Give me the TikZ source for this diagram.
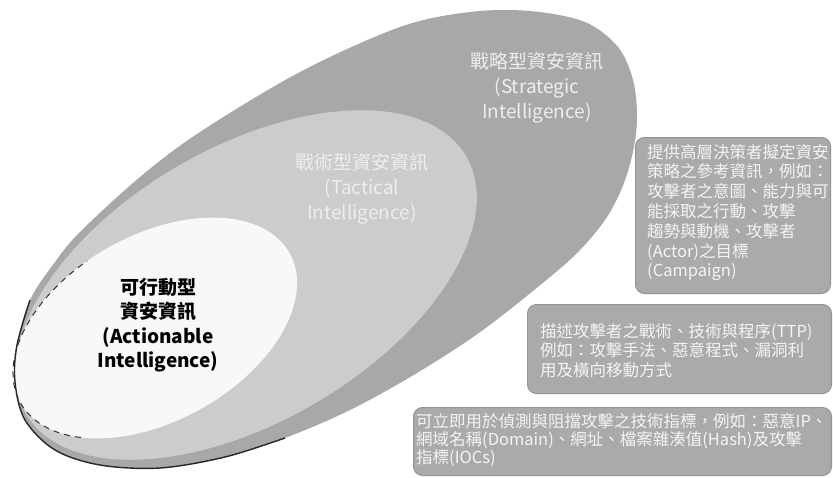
\documentclass[tikz,border=0pt]{standalone}
\usepackage{fontspec}
\setmainfont{Noto Sans CJK TC}
\definecolor{outergray}{RGB}{168,168,168}
\definecolor{midgray}{RGB}{204,204,204}
\definecolor{innerc}{RGB}{248,248,248}
\definecolor{boxgray}{RGB}{170,170,170}
\definecolor{boxedge}{RGB}{148,148,148}
\definecolor{boxtxt}{RGB}{244,244,244}
\definecolor{labeltxt}{RGB}{238,238,238}
\begin{document}
\begin{tikzpicture}[x=1pt,y=-1pt,
  boxnode/.style={fill=boxgray, draw=boxedge, line width=1pt, rounded corners=9pt, anchor=north west, inner sep=0pt},
  boxtext/.style={anchor=north west, inner sep=0pt, align=left, text=boxtxt, font=\fontsize{16.5}{19.8}\selectfont},
  lightlabel/.style={align=center, text=labeltxt, font=\fontsize{19}{25}\selectfont, inner sep=0pt},
  darklabel/.style={align=center, text=black, font=\bfseries\fontsize{19}{24.5}\selectfont, inner sep=0pt}]
\useasboundingbox (0,0) rectangle (833,477);
\fill[white] (0,0) rectangle (833,477);
% nested ellipses
\begin{scope}
  \clip plot[smooth cycle, tension=0.55] coordinates {(17,345) (30,300) (55,262) (80,232) (140,177) (200,132) (300,72) (400,27) (470,12) (530,11) (585,22) (618,47) (633,80) (637,117) (633,152) (622,188) (605,220) (580,250) (550,277) (483,330) (417,373) (350,410) (285,438) (225,457) (160,468) (100,465) (55,450) (25,420) (15,382)};
  \fill[outergray] (0,0) rectangle (833,477);
  \fill[midgray, shift={(246,285)}, rotate=30.3] (0,0) ellipse [x radius=255pt, y radius=137pt];
  \fill[innerc, shift={(155,328)}, rotate=29] (0,0) ellipse [x radius=154pt, y radius=93pt];
\end{scope}
% dark outline at lower left
\draw[black!85, line width=1.4pt] plot[smooth, tension=0.55] coordinates {(30,300) (17,345) (15,382) (25,420) (55,450) (100,465) (160,468) (225,457) (285,438)};
\draw[black!80, line width=1pt, dash pattern=on 6pt off 5pt, shift={(155,328)}, rotate=29]
  (220:154pt and 93pt) arc [start angle=220, end angle=100, x radius=154pt, y radius=93pt];
% ellipse labels
\node[lightlabel] (strat) at (537,88) {戰略型資安資訊\\(Strategic\\Intelligence)};
\node[lightlabel] (tact) at (362,189) {戰術型資安資訊\\(Tactical\\Intelligence)};
\node[darklabel] (act) at (158,325) {可行動型\\資安資訊\\(Actionable\\Intelligence)};
% description boxes
\node[boxnode, minimum width=195pt, minimum height=156pt] (box1) at (635,137) {};
\node[boxtext] (txt1) at (647,144) {提供高層決策者擬定資安\\策略之參考資訊，例如：\\攻擊者之意圖、能力與可\\能採取之行動、攻擊\\趨勢與動機、攻擊者\\(Actor)之目標\\(Campaign)};
\node[boxnode, minimum width=304pt, minimum height=89pt] (box2) at (527,304) {};
\node[boxtext] (txt2) at (540,323) {描述攻擊者之戰術、技術與程序(TTP)\\例如：攻擊手法、惡意程式、漏洞利\\用及橫向移動方式};
\node[boxnode, minimum width=418pt, minimum height=68pt] (box3) at (413,407) {};
\node[boxtext, font=\fontsize{16.5}{18}\selectfont] (txt3) at (416,413) {可立即用於偵測與阻擋攻擊之技術指標，例如：惡意IP、\\網域名稱(Domain)、網址、檔案雜湊值(Hash)及攻擊\\指標(IOCs)};
\end{tikzpicture}
\end{document}
